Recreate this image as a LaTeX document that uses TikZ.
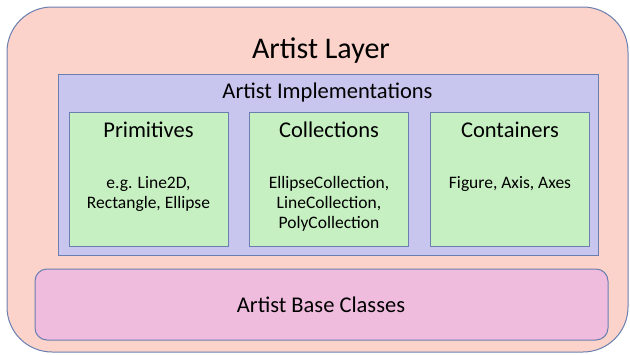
\documentclass[tikz,border=0pt]{standalone}
\usepackage{fontspec}
\setmainfont{Carlito}
\usetikzlibrary{positioning}
\definecolor{layerfill}{HTML}{FCD3CA}
\definecolor{implfill}{HTML}{C8C6EE}
\definecolor{kindfill}{HTML}{C6F0C1}
\definecolor{basefill}{HTML}{EFBCDD}
\definecolor{edgeblue}{HTML}{6A7FB0}

\begin{document}
\begin{tikzpicture}[x=1pt,y=-1pt,
    panel/.style={draw=edgeblue, line width=1pt, inner sep=0pt},
    kind/.style={panel, fill=kindfill, minimum width=159pt, minimum height=134pt},
    heading/.style={font=\fontsize{22.5}{27}\selectfont, anchor=base, inner sep=0pt},
    detail/.style={font=\fontsize{17.5}{20}\selectfont, align=center, anchor=base, inner sep=0pt}]
\useasboundingbox (0,0) rectangle (630,354);

% Outer layer
\node[panel, fill=layerfill, rounded corners=45pt, minimum width=621pt, minimum height=345pt] (layer) at (317.5,179.5) {};
\node[font=\fontsize{30}{36}\selectfont, anchor=base, inner sep=0pt] (layertitle) at (321,58) {Artist Layer};

% Implementations
\node[panel, fill=implfill, minimum width=540pt, minimum height=181pt] (impl) at (328,164.5) {};
\node[heading] (impltitle) at (327.5,98) {Artist Implementations};

% Three kinds of artists
\foreach \name/\x/\title in {prim/148.5/Primitives, coll/329/Collections, cont/510/Containers} {
    \node[kind] (\name) at (\x,179) {};
    \node[heading] (\name title) at (\x,137) {\title};
}
% base anchor sits on the last line
\node[detail] (primtext) at (148.5,208.5) {e.g. Line2D,\\Rectangle, Ellipse};
\node[detail] (colltext) at (329,228.5) {EllipseCollection,\\LineCollection,\\PolyCollection};
\node[detail] (conttext) at (510,188.5) {Figure, Axis, Axes};

% Base classes
\node[panel, fill=basefill, rounded corners=12pt, minimum width=573pt, minimum height=71pt] (base) at (321.5,304.5) {};
\node[heading] (basetitle) at (321,312) {Artist Base Classes};

\end{tikzpicture}
\end{document}
